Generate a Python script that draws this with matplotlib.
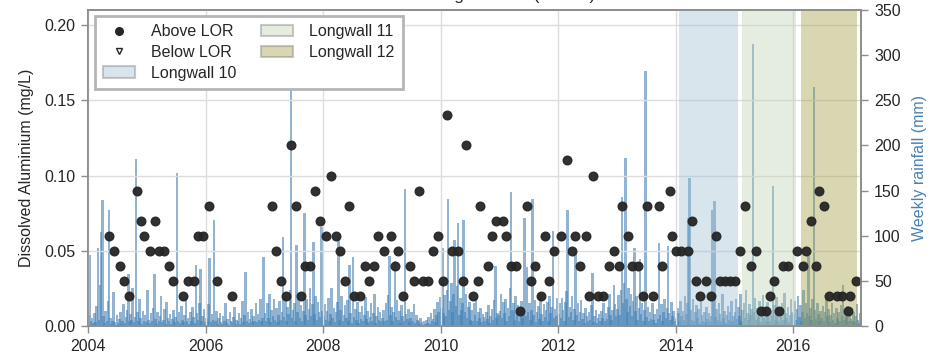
import matplotlib
matplotlib.use("Agg")
import matplotlib.pyplot as plt
from matplotlib.lines import Line2D
from matplotlib.patches import Patch

plt.rcParams["font.family"] = ["Liberation Sans", "DejaVu Sans"]
plt.rcParams["font.size"] = 11.5
plt.rcParams["text.color"] = "#262626"
plt.rcParams["axes.labelcolor"] = "#262626"
plt.rcParams["xtick.color"] = "#262626"
plt.rcParams["ytick.color"] = "#262626"

# dissolved aluminium samples above LOR (decimal year, mg/L)
above_year = [
    2004.358, 2004.443, 2004.535, 2004.613, 2004.693, 2004.824, 2004.892, 2004.943,
    2005.045, 2005.131, 2005.204, 2005.289, 2005.369, 2005.447, 2005.618, 2005.703,
    2005.795, 2005.863, 2005.948, 2006.055, 2006.191, 2006.452,
    2007.133, 2007.191, 2007.276, 2007.366, 2007.451, 2007.537, 2007.622, 2007.690,
    2007.775, 2007.865, 2007.945, 2008.052, 2008.138, 2008.213, 2008.281, 2008.366,
    2008.444, 2008.524, 2008.626, 2008.711, 2008.785, 2008.865, 2008.938,
    2009.035, 2009.154, 2009.222, 2009.278, 2009.364, 2009.473, 2009.541, 2009.631,
    2009.694, 2009.789, 2009.874, 2009.949, 2010.034, 2010.113, 2010.198, 2010.300,
    2010.375, 2010.436, 2010.545, 2010.630, 2010.678, 2010.801, 2010.869, 2010.950,
    2011.053, 2011.104, 2011.197, 2011.288, 2011.351, 2011.470, 2011.533, 2011.606,
    2011.703, 2011.776, 2011.845, 2011.930, 2012.044, 2012.146, 2012.236, 2012.279,
    2012.377, 2012.474, 2012.520, 2012.594, 2012.674, 2012.769, 2012.858, 2012.946,
    2013.031, 2013.096, 2013.189, 2013.263, 2013.355, 2013.450, 2013.513, 2013.620,
    2013.723, 2013.774, 2013.901, 2013.942, 2014.007, 2014.097, 2014.206, 2014.284,
    2014.342, 2014.421, 2014.513, 2014.603, 2014.693, 2014.751, 2014.841, 2014.926,
    2015.011, 2015.100, 2015.187, 2015.284, 2015.364, 2015.449, 2015.539, 2015.602,
    2015.681, 2015.766, 2015.834, 2015.919, 2016.072, 2016.164, 2016.220, 2016.306,
    2016.385, 2016.447, 2016.532, 2016.617, 2016.743, 2016.838, 2016.930, 2016.970,
    2017.067,
]
above_al = [
    0.06, 0.05, 0.04, 0.03, 0.02, 0.09, 0.07, 0.06,
    0.05, 0.07, 0.05, 0.05, 0.04, 0.03, 0.02, 0.03,
    0.03, 0.06, 0.06, 0.08, 0.03, 0.02,
    0.08, 0.05, 0.03, 0.02, 0.12, 0.08, 0.02, 0.04,
    0.04, 0.09, 0.07, 0.06, 0.10, 0.06, 0.05, 0.03,
    0.08, 0.02, 0.02, 0.04, 0.03, 0.04, 0.06,
    0.05, 0.06, 0.04, 0.05, 0.02, 0.04, 0.03, 0.09,
    0.03, 0.03, 0.05, 0.06, 0.03, 0.14, 0.05, 0.05,
    0.03, 0.12, 0.02, 0.03, 0.08, 0.04, 0.06, 0.07,
    0.07, 0.06, 0.04, 0.04, 0.01, 0.08, 0.03, 0.04,
    0.02, 0.06, 0.03, 0.05, 0.06, 0.11, 0.05, 0.06,
    0.04, 0.06, 0.02, 0.10, 0.02, 0.02, 0.04, 0.05,
    0.04, 0.08, 0.06, 0.04, 0.04, 0.02, 0.08, 0.02,
    0.08, 0.04, 0.09, 0.06, 0.05, 0.05, 0.05, 0.07,
    0.03, 0.02, 0.03, 0.02, 0.06, 0.03, 0.03, 0.03,
    0.03, 0.05, 0.08, 0.04, 0.05, 0.01, 0.01, 0.02,
    0.03, 0.01, 0.04, 0.04, 0.05, 0.04, 0.05, 0.07,
    0.04, 0.09, 0.08, 0.02, 0.02, 0.02, 0.01, 0.02,
    0.03,
]
below_year = []
below_al = []

# weekly rainfall (mm), one list per calendar year
rain_by_year = {
    2004: [12, 79, 6, 9, 3, 14, 4, 22, 86, 7, 45, 104, 140,
           11, 3, 17, 5, 28, 128, 9, 2, 6, 38, 4, 1, 12,
           3, 8, 15, 2, 5, 24, 3, 10, 18, 58, 5, 13, 7,
           42, 4, 10, 185, 16, 5, 30, 9, 2, 17, 6, 12, 4],
    2005: [40, 7, 3, 14, 5, 20, 58, 8, 2, 16, 5, 11, 33,
           4, 7, 19, 2, 27, 9, 5, 13, 2, 8, 18, 4, 10,
           169, 6, 15, 3, 22, 7, 4, 12, 31, 5, 9, 2, 16,
           5, 21, 10, 3, 68, 14, 7, 26, 63, 5, 11, 19, 4],
    2006: [9, 5, 24, 75, 4, 13, 7, 117, 5, 17, 2, 9, 14,
           4, 2, 11, 6, 26, 3, 8, 1, 15, 5, 4, 10, 21,
           2, 7, 5, 14, 2, 9, 28, 4, 12, 60, 5, 16, 3,
           8, 19, 4, 11, 6, 25, 4, 13, 7, 30, 5, 9, 76],
    2007: [14, 5, 26, 9, 36, 4, 18, 11, 30, 7, 20, 4, 12,
           28, 7, 16, 99, 10, 33, 5, 21, 13, 40, 265, 9, 18,
           26, 6, 90, 15, 35, 9, 23, 5, 17, 125, 12, 30, 7,
           19, 42, 11, 24, 93, 13, 33, 7, 27, 15, 10, 110, 17],
    2008: [11, 24, 7, 17, 31, 5, 13, 42, 9, 20, 4, 15, 27,
           99, 7, 18, 33, 5, 12, 23, 9, 29, 6, 68, 14, 3,
           76, 10, 19, 7, 27, 3, 15, 8, 22, 5, 12, 32, 8,
           17, 4, 10, 25, 6, 14, 36, 3, 11, 21, 7, 16, 5],
    2009: [9, 18, 5, 26, 7, 34, 77, 12, 21, 5, 15, 72, 10,
           29, 7, 17, 3, 23, 11, 5, 152, 13, 8, 19, 4, 9,
           16, 6, 24, 3, 12, 7, 5, 2, 9, 4, 1, 5, 2,
           7, 3, 10, 2, 14, 5, 8, 19, 4, 12, 27, 15, 32],
    2010: [20, 86, 14, 34, 11, 40, 141, 18, 28, 48, 15, 36, 95,
           22, 44, 114, 12, 31, 18, 25, 117, 16, 35, 9, 21, 27,
           7, 18, 5, 25, 12, 31, 6, 15, 9, 20, 4, 13, 10,
           5, 16, 8, 23, 3, 11, 19, 7, 29, 66, 9, 14, 12],
    2011: [17, 36, 9, 27, 14, 30, 5, 20, 11, 42, 148, 18, 25,
           7, 33, 13, 23, 5, 17, 28, 9, 19, 120, 11, 65, 15,
           26, 7, 18, 141, 12, 29, 4, 16, 22, 8, 35, 13, 5,
           24, 10, 18, 27, 6, 33, 14, 21, 105, 9, 19, 11, 31],
    2012: [13, 25, 9, 31, 18, 5, 27, 39, 129, 10, 21, 15, 33,
           7, 19, 82, 12, 26, 5, 16, 29, 8, 14, 3, 20, 11,
           5, 15, 7, 23, 59, 4, 11, 18, 3, 9, 13, 6, 17,
           9, 26, 5, 14, 8, 21, 36, 12, 7, 18, 45, 24, 11],
    2013: [19, 34, 12, 40, 143, 25, 48, 186, 30, 15, 42, 22, 36,
           11, 28, 86, 17, 33, 7, 20, 74, 13, 25, 5, 18, 282,
           10, 21, 5, 15, 8, 26, 7, 13, 3, 19, 8, 92, 12,
           24, 6, 16, 30, 9, 20, 89, 14, 7, 27, 11, 17, 5],
    2014: [9, 20, 14, 5, 28, 11, 17, 7, 33, 13, 25, 120, 164,
           18, 7, 30, 5, 15, 23, 9, 19, 3, 27, 12, 6, 16,
           4, 21, 8, 14, 5, 11, 128, 33, 139, 10, 19, 7, 25,
           13, 5, 36, 9, 17, 3, 12, 22, 7, 15, 28, 5, 11],
    2015: [16, 30, 8, 21, 11, 35, 5, 18, 26, 9, 40, 14, 7,
           24, 12, 19, 312, 15, 31, 7, 20, 10, 28, 4, 15, 34,
           9, 19, 6, 27, 13, 5, 17, 11, 155, 23, 7, 32, 13,
           5, 18, 10, 25, 7, 37, 14, 9, 21, 4, 12, 30, 16],
    2016: [13, 28, 7, 19, 33, 10, 23, 5, 16, 40, 9, 26, 14,
           77, 11, 20, 7, 30, 265, 18, 8, 25, 13, 5, 17, 9,
           22, 6, 15, 32, 11, 19, 4, 12, 26, 7, 14, 3, 20,
           9, 16, 5, 23, 11, 45, 7, 18, 10, 22, 5, 13, 8],
    2017: [6, 16, 4, 11, 24, 7, 3, 14, 9, 5, 10, 2],
}

longwall_names = ["Longwall 10", "Longwall 11", "Longwall 12"]
longwall_start = [2014.053, 2015.125, 2016.135]
longwall_end = [2015.068, 2016.050, 2017.084]
longwall_colors = ["#a0bed4", "#c0d2b4", "#a09d3e"]

rain_x = []
rain_mm = []
for yr, vals in rain_by_year.items():
    for w, v in enumerate(vals):
        rain_x.append(yr + (w + 0.5) * 7 / 365.25)
        rain_mm.append(v)

fig, ax1 = plt.subplots(figsize=(9.37, 3.59), dpi=100)
fig.subplots_adjust(left=0.0942, right=0.9189, bottom=0.0919, top=0.9721)
ax2 = ax1.twinx()

ax2.bar(rain_x, rain_mm, width=16 / 365.25, color="steelblue", alpha=0.6,
        linewidth=0)
ax2.set_ylim(0, 350)
ax2.set_yticks(range(0, 351, 50))
ax2.set_ylabel("Weekly rainfall (mm)", color="steelblue", labelpad=8)

ax1.set_zorder(ax2.get_zorder() + 1)
ax1.patch.set_visible(False)

for s, e, c in zip(longwall_start, longwall_end, longwall_colors):
    ax1.axvspan(s, e, color=c, alpha=0.4, linewidth=0)

ax1.plot(above_year, above_al, "o", color="#262626", ms=6.2, alpha=0.95)
ax1.plot(below_year, below_al, "v", mfc="white", mec="#262626", ms=5)

ax1.set_xlim(2004.0, 2017.157)
ax1.set_ylim(0, 0.21)
ax1.set_xticks(range(2004, 2017, 2))
ax1.set_xticklabels([str(y) for y in range(2004, 2017, 2)])
ax1.set_yticks([0.0, 0.05, 0.10, 0.15, 0.20])
ax1.set_yticklabels(["0.00", "0.05", "0.10", "0.15", "0.20"])
ax1.set_ylabel("Dissolved Aluminium (mg/L)", labelpad=7)
ax1.grid(True, color="#dddddd", linewidth=1)
ax1.set_axisbelow(True)
# title sits above the figure edge, only its descenders show
ax1.set_title("Waratah Longwall Site (WRS3)", fontsize=12.5, pad=7.5)

for ax in (ax1, ax2):
    for sp in ax.spines.values():
        sp.set_color("#8c8c8c")
        sp.set_linewidth(1.2)
    ax.tick_params(length=5, width=1, color="#8c8c8c", pad=4.5, labelsize=11.5)

handles = [
    Line2D([], [], marker="o", ls="", color="#262626", ms=5.5),
    Line2D([], [], marker="v", ls="", mfc="white", mec="#262626", ms=5),
]
for c in longwall_colors:
    handles.append(Patch(facecolor=c, alpha=0.4, edgecolor="#7a7a7a", linewidth=1.5))
labels = ["Above LOR", "Below LOR"] + longwall_names
leg = ax1.legend(handles, labels, loc="upper left", ncol=2, frameon=True,
                 fancybox=False, framealpha=1, edgecolor="#b5b5b5",
                 borderaxespad=0.4, columnspacing=1.6, handletextpad=1.0,
                 borderpad=0.5, labelspacing=0.35)
leg.get_frame().set_linewidth(2)

fig.savefig("out.png", dpi=100)
